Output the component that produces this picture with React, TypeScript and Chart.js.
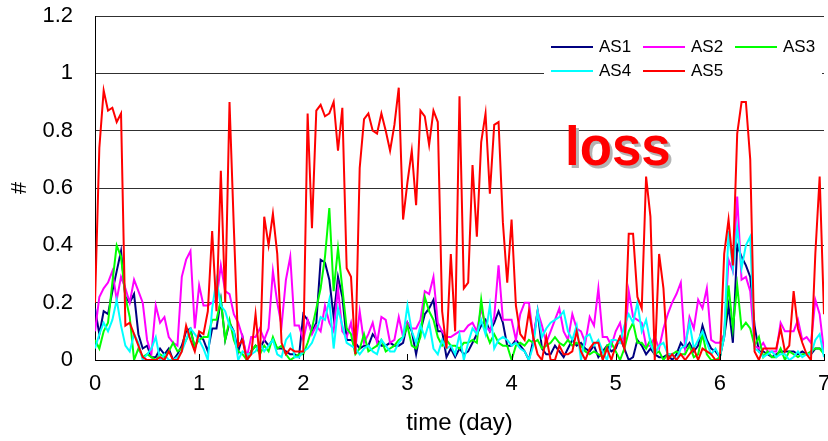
import React, { useEffect, useRef } from 'react';
import { Chart, registerables } from 'chart.js';

Chart.register(...registerables);

const seriesNames = ['AS1', 'AS2', 'AS3', 'AS4', 'AS5'];
const seriesColors = ['#000080', '#ff00ff', '#00ff00', '#00ffff', '#ff0000'];
const xTickLabels = ['0', '1', '2', '3', '4', '5', '6', '7'];
const yTickLabels = ['0', '0.2', '0.4', '0.6', '0.8', '1', '1.2'];
const samplesPerDay = 24;

// AS1 (navy), hourly samples over 7 days
const as1 = [
  0.18, 0.09, 0.17, 0.16, 0.24, 0.31, 0.38, 0.22, 0.2, 0.23, 0.09, 0.04, 0.05, 0.01, 0.01, 0.04, 0.02, 0.04, 0.0, 0.02, 0.05, 0.1, 0.11, 0.04,
  0.09, 0.07, 0.03, 0.11, 0.11, 0.21, 0.07, 0.13, 0.1, 0.03, 0.08, 0.0, 0.03, 0.05, 0.04, 0.07, 0.05, 0.07, 0.04, 0.04, 0.03, 0.02, 0.02, 0.01,
  0.16, 0.14, 0.1, 0.13, 0.35, 0.34, 0.28, 0.15, 0.29, 0.22, 0.07, 0.07, 0.06, 0.04, 0.05, 0.05, 0.09, 0.07, 0.05, 0.05, 0.06, 0.05, 0.05, 0.06,
  0.13, 0.1, 0.02, 0.1, 0.16, 0.18, 0.21, 0.1, 0.1, 0.01, 0.04, 0.01, 0.04, 0.02, 0.03, 0.06, 0.09, 0.12, 0.14, 0.1, 0.13, 0.17, 0.13, 0.05,
  0.05, 0.07, 0.05, 0.03, 0.0, 0.07, 0.17, 0.04, 0.02, 0.02, 0.05, 0.03, 0.01, 0.04, 0.07, 0.05, 0.06, 0.04, 0.03, 0.05, 0.01, 0.03, 0.05, 0.03,
  0.04, 0.08, 0.04, 0.0, 0.01, 0.07, 0.05, 0.02, 0.04, 0.02, 0.01, 0.01, 0.02, 0.0, 0.02, 0.06, 0.04, 0.06, 0.03, 0.05, 0.12, 0.07, 0.04, 0.03,
  0.01, 0.08, 0.19, 0.06, 0.4, 0.36, 0.33, 0.29, 0.12, 0.03, 0.03, 0.02, 0.01, 0.02, 0.03, 0.03, 0.03, 0.03, 0.02, 0.03, 0.02, 0.02, 0.04, 0.04,
  0.03,
];

// AS2 (magenta)
const as2 = [
  0.1, 0.22, 0.25, 0.27, 0.31, 0.21, 0.29, 0.25, 0.2, 0.28, 0.24, 0.2, 0.07, 0.02, 0.19, 0.13, 0.15, 0.08, 0.06, 0.05, 0.29, 0.35, 0.38, 0.11,
  0.26, 0.19, 0.19, 0.2, 0.21, 0.33, 0.24, 0.23, 0.16, 0.13, 0.08, 0.01, 0.08, 0.08, 0.11, 0.07, 0.11, 0.31, 0.2, 0.12, 0.28, 0.36, 0.12, 0.12,
  0.07, 0.14, 0.09, 0.12, 0.1, 0.19, 0.13, 0.1, 0.25, 0.1, 0.08, 0.13, 0.04, 0.17, 0.06, 0.09, 0.13, 0.06, 0.15, 0.14, 0.06, 0.07, 0.15, 0.08,
  0.13, 0.11, 0.11, 0.14, 0.24, 0.23, 0.29, 0.13, 0.1, 0.08, 0.08, 0.09, 0.1, 0.1, 0.12, 0.13, 0.1, 0.18, 0.12, 0.1, 0.15, 0.33, 0.14, 0.14,
  0.14, 0.07, 0.16, 0.2, 0.2, 0.08, 0.17, 0.12, 0.06, 0.1, 0.14, 0.18, 0.1, 0.07, 0.16, 0.11, 0.1, 0.06, 0.15, 0.12, 0.25, 0.08, 0.08, 0.05,
  0.1, 0.13, 0.05, 0.24, 0.15, 0.14, 0.13, 0.05, 0.05, 0.08, 0.04, 0.11, 0.16, 0.2, 0.23, 0.27, 0.04, 0.15, 0.11, 0.21, 0.18, 0.25, 0.07, 0.06,
  0.06, 0.09, 0.35, 0.31, 0.57, 0.28, 0.29, 0.24, 0.05, 0.04, 0.06, 0.03, 0.03, 0.03, 0.13, 0.1, 0.1, 0.1, 0.14, 0.07, 0.08, 0.06, 0.21, 0.16,
  0.03,
];

// AS3 (green)
const as3 = [
  0.07, 0.04, 0.1, 0.13, 0.27, 0.4, 0.36, 0.22, 0.15, 0.0, 0.04, 0.01, 0.02, 0.01, 0.0, 0.02, 0.01, 0.03, 0.06, 0.03, 0.04, 0.07, 0.1, 0.05,
  0.07, 0.08, 0.08, 0.14, 0.14, 0.21, 0.07, 0.14, 0.07, 0.03, 0.02, 0.0, 0.03, 0.05, 0.02, 0.05, 0.03, 0.08, 0.04, 0.05, 0.02, 0.0, 0.01, 0.02,
  0.02, 0.06, 0.11, 0.18, 0.25, 0.36, 0.53, 0.24, 0.39, 0.25, 0.11, 0.09, 0.02, 0.04, 0.09, 0.03, 0.04, 0.05, 0.07, 0.03, 0.04, 0.05, 0.07, 0.08,
  0.12, 0.05, 0.04, 0.08, 0.22, 0.17, 0.14, 0.08, 0.05, 0.07, 0.05, 0.05, 0.04, 0.06, 0.06, 0.07, 0.06, 0.21, 0.1, 0.06, 0.09, 0.06, 0.05, 0.05,
  0.0, 0.05, 0.06, 0.05, 0.07, 0.06, 0.07, 0.04, 0.05, 0.06, 0.08, 0.06, 0.05, 0.07, 0.05, 0.06, 0.05, 0.03, 0.02, 0.03, 0.02, 0.01, 0.05, 0.06,
  0.03, 0.0, 0.04, 0.1, 0.13, 0.06, 0.06, 0.04, 0.07, 0.02, 0.03, 0.0, 0.02, 0.02, 0.03, 0.02, 0.02, 0.05, 0.01, 0.02, 0.09, 0.02, 0.0, 0.0,
  0.01, 0.09, 0.26, 0.11, 0.26, 0.11, 0.13, 0.11, 0.05, 0.08, 0.01, 0.03, 0.01, 0.01, 0.04, 0.0, 0.03, 0.02, 0.01, 0.02, 0.02, 0.03, 0.04, 0.04,
  0.02,
];

// AS4 (cyan)
const as4 = [
  0.04, 0.09, 0.13, 0.1, 0.14, 0.21, 0.12, 0.05, 0.03, 0.09, 0.06, 0.0, 0.02, 0.04, 0.08, 0.0, 0.02, 0.0, 0.0, 0.01, 0.03, 0.07, 0.11, 0.09,
  0.07, 0.04, 0.0, 0.18, 0.28, 0.19, 0.17, 0.12, 0.1, 0.0, 0.03, 0.02, 0.02, 0.03, 0.06, 0.03, 0.05, 0.07, 0.02, 0.01, 0.07, 0.09, 0.01, 0.01,
  0.03, 0.04, 0.06, 0.1, 0.15, 0.14, 0.21, 0.04, 0.18, 0.12, 0.06, 0.05, 0.04, 0.02, 0.04, 0.05, 0.03, 0.02, 0.07, 0.05, 0.03, 0.03, 0.06, 0.08,
  0.19, 0.1, 0.06, 0.12, 0.08, 0.13, 0.04, 0.02, 0.07, 0.04, 0.05, 0.02, 0.09, 0.0, 0.06, 0.11, 0.09, 0.14, 0.09, 0.19, 0.04, 0.07, 0.08, 0.07,
  0.05, 0.06, 0.04, 0.03, 0.0, 0.05, 0.17, 0.08, 0.11, 0.13, 0.14, 0.15, 0.17, 0.1, 0.07, 0.12, 0.0, 0.08, 0.09, 0.05, 0.07, 0.03, 0.0, 0.07,
  0.07, 0.06, 0.12, 0.16, 0.13, 0.2, 0.1, 0.14, 0.06, 0.02, 0.05, 0.06, 0.02, 0.02, 0.0, 0.04, 0.05, 0.13, 0.04, 0.07, 0.1, 0.06, 0.02, 0.04,
  0.01, 0.08, 0.45, 0.32, 0.46, 0.32, 0.4, 0.43, 0.04, 0.03, 0.01, 0.02, 0.03, 0.01, 0.02, 0.02, 0.0, 0.01, 0.03, 0.01, 0.02, 0.02, 0.07, 0.09,
  0.01,
];

// AS5 (red)
const as5 = [
  0.2, 0.74, 0.94, 0.87, 0.88, 0.83, 0.86, 0.12, 0.13, 0.09, 0.05, 0.01, 0.0, 0.0, 0.0, 0.01, 0.0, 0.03, 0.0, 0.0, 0.03, 0.12, 0.07, 0.03,
  0.1, 0.09, 0.17, 0.45, 0.17, 0.66, 0.2, 0.9, 0.46, 0.05, 0.07, 0.0, 0.02, 0.16, 0.0, 0.5, 0.4, 0.51, 0.37, 0.06, 0.02, 0.04, 0.03, 0.03,
  0.03, 0.86, 0.46, 0.87, 0.89, 0.85, 0.86, 0.9, 0.73, 0.88, 0.32, 0.29, 0.02, 0.67, 0.84, 0.86, 0.8, 0.79, 0.86, 0.8, 0.73, 0.82, 0.95, 0.49,
  0.62, 0.73, 0.54, 0.87, 0.85, 0.75, 0.87, 0.83, 0.17, 0.04, 0.37, 0.1, 0.92, 0.25, 0.27, 0.68, 0.43, 0.76, 0.86, 0.58, 0.82, 0.83, 0.48, 0.27,
  0.49, 0.19, 0.09, 0.07, 0.17, 0.08, 0.02, 0.0, 0.08, 0.0, 0.0, 0.05, 0.02, 0.02, 0.03, 0.1, 0.03, 0.0, 0.04, 0.06, 0.06, 0.0, 0.04, 0.0,
  0.05, 0.08, 0.04, 0.44, 0.44, 0.22, 0.18, 0.64, 0.5, 0.0, 0.37, 0.25, 0.0, 0.02, 0.0, 0.02, 0.0, 0.02, 0.04, 0.0, 0.04, 0.03, 0.02, 0.0,
  0.0, 0.37, 0.49, 0.33, 0.79, 0.9, 0.9, 0.7, 0.03, 0.0, 0.04, 0.04, 0.04, 0.04, 0.11, 0.03, 0.05, 0.24, 0.11, 0.06, 0.02, 0.0, 0.37, 0.64,
  0.16,
];

const FONT = '"Liberation Sans", Arial, sans-serif';

const innerTicksPlugin = {
  id: 'innerTicks',
  afterDraw(chart: any) {
    const { ctx, scales } = chart;
    const xs = scales.x;
    const bottom = chart.chartArea.bottom;
    ctx.save();
    ctx.strokeStyle = '#000';
    ctx.lineWidth = 1;
    xs.ticks.forEach((t: any) => {
      const px = Math.round(xs.getPixelForValue(t.value)) + 0.5;
      ctx.beginPath();
      ctx.moveTo(px, bottom);
      ctx.lineTo(px, bottom - 6);
      ctx.stroke();
    });
    ctx.restore();
  },
};

const legendPlugin = {
  id: 'insideLegend',
  beforeDatasetsDraw(chart: any) {
    const { ctx } = chart;
    const area = chart.chartArea;
    ctx.save();
    ctx.fillStyle = '#ffffff';
    ctx.fillRect(544, area.top + 14, area.right - 546, 54);
    const cols = [551, 643, 735];
    const rows = [47, 71];
    ctx.font = `17px ${FONT}`;
    ctx.textBaseline = 'middle';
    ctx.textAlign = 'left';
    chart.data.datasets.forEach((ds: any, i: number) => {
      const cx = cols[i % 3];
      const cy = rows[Math.floor(i / 3)];
      ctx.strokeStyle = ds.borderColor;
      ctx.lineWidth = 2;
      ctx.beginPath();
      ctx.moveTo(cx, cy);
      ctx.lineTo(cx + 42, cy);
      ctx.stroke();
      ctx.fillStyle = '#000';
      ctx.fillText(ds.label, cx + 48, cy);
    });
    ctx.restore();
  },
};

const lossTextPlugin = {
  id: 'lossText',
  afterDatasetsDraw(chart: any) {
    const { ctx } = chart;
    ctx.save();
    ctx.font = `bold 55px ${FONT}`;
    ctx.textBaseline = 'alphabetic';
    ctx.textAlign = 'left';
    ctx.translate(565, 165);
    ctx.scale(0.96, 1);
    ctx.fillStyle = '#b4b4b4';
    ctx.fillText('loss', 3, 3);
    ctx.fillStyle = '#ff0000';
    ctx.fillText('loss', 0, 0);
    ctx.restore();
  },
};

export default function App() {
  const ref = useRef<HTMLCanvasElement>(null);

  useEffect(() => {
    const seriesValues = [as1, as2, as3, as4, as5];
    const datasets = seriesNames.map((name, i) => ({
      label: name,
      data: seriesValues[i].map((v, h) => ({ x: h / samplesPerDay, y: v })),
      borderColor: seriesColors[i],
      backgroundColor: seriesColors[i],
      borderWidth: 2,
      pointRadius: 0,
      tension: 0,
      fill: false,
      order: seriesNames.length - i,
    }));

    const chart = new Chart(ref.current as HTMLCanvasElement, {
      type: 'line',
      data: { datasets },
      options: {
        animation: false,
        responsive: true,
        maintainAspectRatio: false,
        layout: { padding: { left: 0, right: 4, top: 16, bottom: 0 } },
        plugins: {
          legend: { display: false },
          tooltip: { enabled: false },
        },
        scales: {
          x: {
            type: 'linear',
            min: 0,
            max: 7,
            grid: { display: false, drawTicks: false },
            border: { display: true, color: '#000', width: 1 },
            ticks: {
              stepSize: 1,
              padding: 11,
              maxRotation: 0,
              color: '#000',
              font: { family: FONT, size: 22 },
              callback: (v: any) => xTickLabels[Math.round(Number(v))],
            },
            title: {
              display: true,
              text: 'time (day)',
              color: '#000',
              font: { family: FONT, size: 24 },
              padding: { top: 0, bottom: 3 },
            },
            afterFit: (s: any) => {
              s.height = 81;
              s.paddingLeft = 0;
              s.paddingRight = 0;
              s.paddingTop = 0;
              s.paddingBottom = 0;
            },
          },
          y: {
            type: 'linear',
            min: 0,
            max: 1.2,
            grid: { color: '#303030', lineWidth: 1, drawTicks: false },
            border: { display: true, color: '#000', width: 1 },
            ticks: {
              stepSize: 0.2,
              padding: 22,
              color: '#000',
              font: { family: FONT, size: 22 },
              callback: (v: any) => yTickLabels[Math.round(Number(v) / 0.2)],
            },
            title: {
              display: true,
              text: '#',
              color: '#000',
              font: { family: FONT, size: 22 },
              padding: { top: 7, bottom: 0 },
            },
            afterFit: (s: any) => {
              s.width = 95;
              s.paddingLeft = 0;
              s.paddingRight = 0;
              s.paddingTop = 0;
              s.paddingBottom = 0;
            },
          },
        },
      } as any,
      plugins: [legendPlugin, lossTextPlugin, innerTicksPlugin],
    });

    return () => chart.destroy();
  }, []);

  return (
    <div style={{ position: 'absolute', left: 0, top: 0, width: 828, height: 441, background: '#fff' }}>
      <canvas ref={ref} />
    </div>
  );
}
